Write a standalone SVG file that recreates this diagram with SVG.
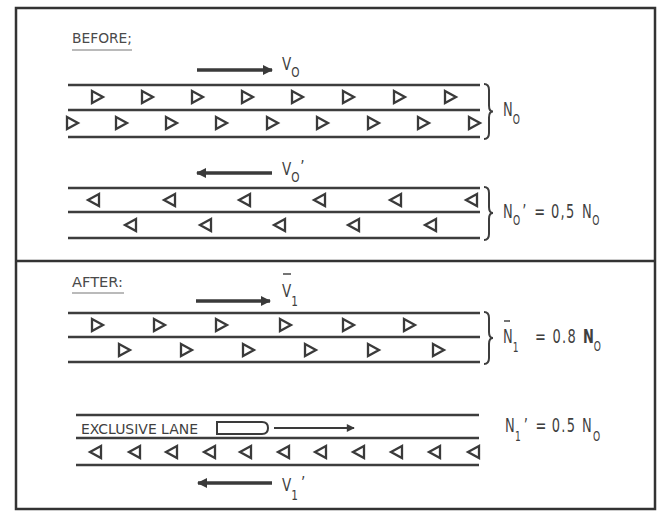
<svg xmlns="http://www.w3.org/2000/svg" xmlns:xlink="http://www.w3.org/1999/xlink" width="661" height="515" viewBox="0 0 661 515">
<style>
.frame{fill:none;stroke:#333;stroke-width:2.5}
.lane{stroke:#3d3d3d;stroke-width:2.6;fill:none}
.veh{fill:none;stroke:#3a3a3a;stroke-width:2.3;stroke-linejoin:miter}
.brace{fill:none;stroke:#3d3d3d;stroke-width:2}
.arr{stroke:#3a3a3a;stroke-width:3.4;fill:none}
.thin{stroke:#3a3a3a;stroke-width:1.8;fill:none}
.txt{font-family:"DejaVu Sans","Liberation Sans",sans-serif;fill:#3f3f3f}
.hd{font-size:14px;fill:#4a4a4a}
.lab{font-size:18px}
.big{font-size:20px}
.sub{font-size:14px}
.ul{stroke:#777;stroke-width:1.2}
</style>
<defs>
<path id="tr" d="M-5,-6 L6,0 L-5,6 Z"/>
<path id="tl" d="M5,-6 L-6,0 L5,6 Z"/>
<marker id="ah" viewBox="0 0 10 10" refX="9" refY="5" markerWidth="10" markerHeight="10" markerUnits="userSpaceOnUse" orient="auto"><path d="M0,0 L10,5 L0,10 Z" fill="#3a3a3a"/></marker>
<marker id="ahs" viewBox="0 0 10 10" refX="9" refY="5" markerWidth="9" markerHeight="8" markerUnits="userSpaceOnUse" orient="auto"><path d="M0,0 L10,5 L0,10 Z" fill="#3a3a3a"/></marker>
</defs>
<rect width="661" height="515" fill="#fff"/>
<rect class="frame" x="16" y="8" width="639" height="501"/>
<line class="frame" x1="16" y1="261" x2="655" y2="261"/>

<g id="before-heading">
<text class="txt hd" x="72" y="43" textLength="60" lengthAdjust="spacingAndGlyphs">BEFORE;</text>
<line class="ul" x1="72" y1="50" x2="132" y2="50"/>
</g>

<g id="before-main-road">
<g class="lane">
<line x1="68" y1="85" x2="480" y2="85"/>
<line x1="68" y1="110" x2="480" y2="110"/>
<line x1="68" y1="137" x2="480" y2="137"/>
</g>
<g class="veh">
<use href="#tr" x="97" y="97"/><use href="#tr" x="147" y="97"/><use href="#tr" x="197" y="97"/><use href="#tr" x="247" y="97"/><use href="#tr" x="297" y="97"/><use href="#tr" x="348" y="97"/><use href="#tr" x="399" y="97"/><use href="#tr" x="450" y="97"/>
<use href="#tr" x="72" y="123"/><use href="#tr" x="121" y="123"/><use href="#tr" x="171" y="123"/><use href="#tr" x="221" y="123"/><use href="#tr" x="272" y="123"/><use href="#tr" x="322" y="123"/><use href="#tr" x="373" y="123"/><use href="#tr" x="423" y="123"/><use href="#tr" x="474" y="123"/>
</g>
<path class="brace" d="M484,84 Q489,84 489,90 L489,105.5 Q489,111.5 493,111.5 Q489,111.5 489,117.5 L489,133 Q489,139 484,139"/>
<text class="txt big" transform="translate(503,0) scale(0.65,1)" x="0" y="116">N<tspan class="sub" x="15" y="124">O</tspan></text>
</g>

<g id="before-opposing-road">
<g class="lane">
<line x1="68" y1="188" x2="480" y2="188"/>
<line x1="68" y1="212" x2="480" y2="212"/>
<line x1="68" y1="238" x2="480" y2="238"/>
</g>
<g class="veh">
<use href="#tl" x="94" y="200"/><use href="#tl" x="170" y="200"/><use href="#tl" x="245" y="200"/><use href="#tl" x="320" y="200"/><use href="#tl" x="396" y="200"/><use href="#tl" x="472" y="200"/>
<use href="#tl" x="131" y="225"/><use href="#tl" x="206" y="225"/><use href="#tl" x="280" y="225"/><use href="#tl" x="354" y="225"/><use href="#tl" x="431" y="225"/>
</g>
<path class="brace" d="M484,187 Q489,187 489,193 L489,207 Q489,213 493,213 Q489,213 489,219 L489,234 Q489,240 484,240"/>
<text class="txt big" transform="translate(503,0) scale(0.65,1)" x="0" y="218">N<tspan class="sub" x="15.5" y="225">O</tspan><tspan x="29.5" y="218">’</tspan><tspan x="48" y="218">=</tspan><tspan x="73.8" y="218" letter-spacing="2">0,5</tspan><tspan x="121.5" y="218">N</tspan><tspan class="sub" x="137.5" y="225">O</tspan></text>
</g>

<g id="after-heading">
<text class="txt hd" x="72" y="287" font-size="15" textLength="51" lengthAdjust="spacingAndGlyphs">AFTER:</text>
<line class="ul" x1="72" y1="293" x2="124" y2="293"/>
</g>

<g id="after-main-road">
<g class="lane">
<line x1="68" y1="313" x2="480" y2="313"/>
<line x1="68" y1="337" x2="480" y2="337"/>
<line x1="68" y1="362" x2="480" y2="362"/>
</g>
<g class="veh">
<use href="#tr" x="97" y="325"/><use href="#tr" x="159" y="325"/><use href="#tr" x="221" y="325"/><use href="#tr" x="285" y="325"/><use href="#tr" x="348" y="325"/><use href="#tr" x="409" y="325"/>
<use href="#tr" x="124" y="350"/><use href="#tr" x="186" y="350"/><use href="#tr" x="248" y="350"/><use href="#tr" x="310" y="350"/><use href="#tr" x="373" y="350"/><use href="#tr" x="438" y="350"/>
</g>
<path class="brace" d="M484,312 Q489,312 489,318 L489,332 Q489,338 493,338 Q489,338 489,344 L489,358 Q489,364 484,364"/>
<line class="thin" x1="504" y1="321" x2="510" y2="321" style="stroke-width:1.4"/>
<text class="txt big" transform="translate(503,0) scale(0.65,1)" x="0" y="343">N<tspan class="sub" x="15" y="352">1</tspan><tspan x="49.2" y="343">=</tspan><tspan x="76" y="343" letter-spacing="2">0.8</tspan><tspan x="123" y="343" font-weight="bold">N</tspan><tspan class="sub" x="139.5" y="351">O</tspan></text>
</g>

<g id="after-exclusive-road">
<g class="lane">
<line x1="76" y1="415" x2="479" y2="415"/>
<line x1="76" y1="438" x2="479" y2="438"/>
<line x1="76" y1="465" x2="479" y2="465"/>
</g>
<text class="txt" x="81" y="434" font-size="14" textLength="117" lengthAdjust="spacingAndGlyphs">EXCLUSIVE LANE</text>
<path class="veh" style="stroke-width:2" d="M217,422 H262 Q268,422 268,428 Q268,434 262,434 H217 Z"/>
<g class="veh">
<use href="#tl" x="96" y="452"/><use href="#tl" x="135" y="452"/><use href="#tl" x="172" y="452"/><use href="#tl" x="210" y="452"/><use href="#tl" x="246" y="452"/><use href="#tl" x="284" y="452"/><use href="#tl" x="321" y="452"/><use href="#tl" x="359" y="452"/><use href="#tl" x="397" y="452"/><use href="#tl" x="435" y="452"/><use href="#tl" x="474" y="452"/>
</g>
<text class="txt big" transform="translate(505,0) scale(0.65,1)" x="0" y="432">N<tspan class="sub" x="15.5" y="441">1</tspan><tspan x="29" y="432">’</tspan><tspan x="47" y="432">=</tspan><tspan x="72" y="432" letter-spacing="2">0.5</tspan><tspan x="118.5" y="432">N</tspan><tspan class="sub" x="135.4" y="441">O</tspan></text>
</g>

<g id="connectors">
<line class="arr" x1="197" y1="70" x2="272" y2="70" marker-end="url(#ah)"/>
<line class="arr" x1="272" y1="173" x2="197" y2="173" marker-end="url(#ah)"/>
<line class="arr" x1="196" y1="301" x2="270" y2="301" marker-end="url(#ah)"/>
<line class="thin" x1="274" y1="428" x2="354" y2="428" marker-end="url(#ahs)"/>
<line class="arr" x1="272" y1="483" x2="198" y2="483" marker-end="url(#ah)"/>
</g>

<g id="speed-labels">
<text class="txt lab" transform="translate(282,0) scale(0.75,1)" x="0" y="70">V<tspan class="sub" x="12.5" y="77">O</tspan></text>
<text class="txt lab" transform="translate(282,0) scale(0.75,1)" x="0" y="175">V<tspan class="sub" x="12.5" y="182">O</tspan><tspan x="24.5" y="173">’</tspan></text>
<line class="thin" x1="283" y1="274" x2="291" y2="274" style="stroke-width:1.4"/>
<text class="txt lab" transform="translate(282,0) scale(0.75,1)" x="0" y="297">V<tspan class="sub" x="12.5" y="306">1</tspan></text>
<text class="txt lab" transform="translate(282,0) scale(0.75,1)" x="0" y="491">V<tspan class="sub" x="12.5" y="500">1</tspan><tspan x="25.5" y="489">’</tspan></text>
</g>
</svg>
